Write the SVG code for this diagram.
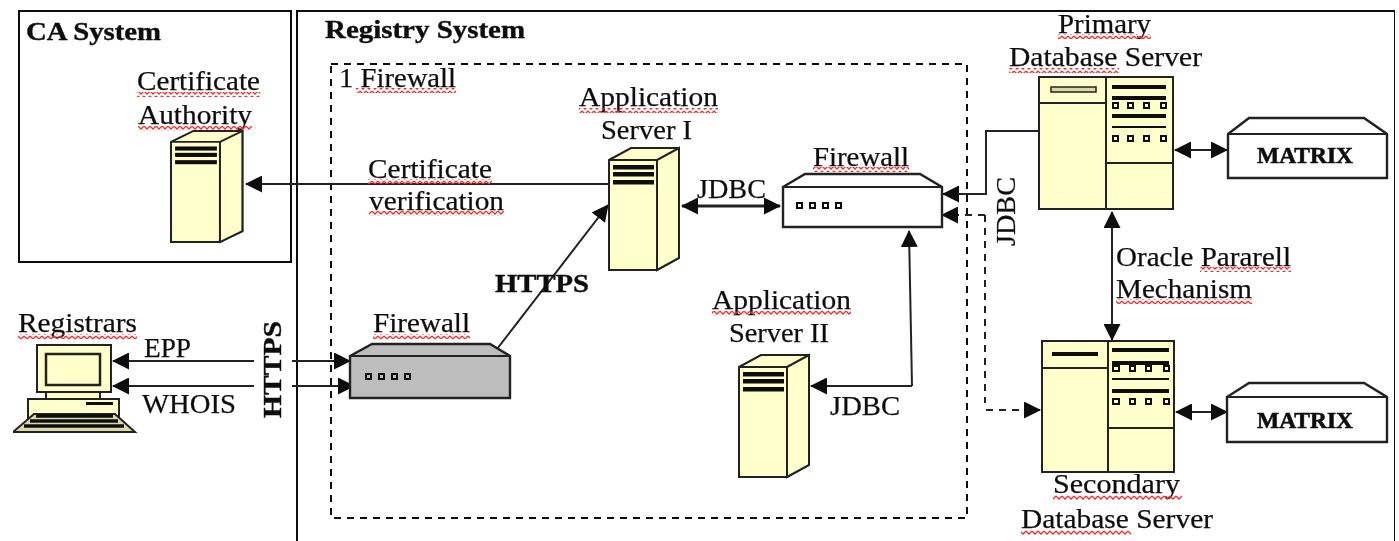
<svg xmlns="http://www.w3.org/2000/svg" xmlns:xlink="http://www.w3.org/1999/xlink" width="1399" height="541" viewBox="0 0 1399 541">
<style>
text{font-family:"Liberation Serif","Times New Roman",serif;font-size:27px;fill:#111;stroke:#111;stroke-width:.25}
.b{font-weight:bold;font-size:26px;stroke-width:.4}
.m{font-size:24px;font-weight:bold;stroke-width:.6}
.o{fill:none;stroke:#111;stroke-width:2}
.y{fill:#ffffcc;stroke:#222;stroke-width:2}
.w{fill:#fff;stroke:#222;stroke-width:2.4}
.g{fill:#bdbdbd;stroke:#222;stroke-width:2.4}
.c{fill:none;stroke:#222;stroke-width:2}
.a{marker-end:url(#h)}
.d{marker-start:url(#h2);marker-end:url(#h)}
.dash{stroke-dasharray:7 6}
.sq{fill:url(#zz)}
.bar{fill:#111}
.dot{stroke:#111;stroke-width:2}
</style>
<defs>
<marker id="h" markerUnits="userSpaceOnUse" markerWidth="17" markerHeight="17" refX="16" refY="8.5" orient="auto"><polygon points="0,0 17,8.5 0,17" fill="#111"/></marker>
<marker id="h2" markerUnits="userSpaceOnUse" markerWidth="17" markerHeight="17" refX="1" refY="8.5" orient="auto"><polygon points="17,0 0,8.5 17,17" fill="#111"/></marker>
<pattern id="zz" patternUnits="userSpaceOnUse" width="6" height="5"><path d="M0,1 L3,4 L6,1" fill="none" stroke="#ee3030" stroke-width="1.3"/></pattern>
<g id="tower">
<path class="y" d="M0,12 L22,0 H70 L70,110 L48,122 H0Z"/>
<path class="y" d="M48,12 L70,0 V110 L48,122Z"/>
<path class="c" d="M0,12 H48"/>
<rect class="bar" x="4" y="17" width="41" height="4.5"/><rect class="bar" x="4" y="24" width="41" height="4.5"/><rect class="bar" x="4" y="32" width="41" height="4.5"/>
</g>
<g id="dots" class="dot"><rect x="0" y="0" width="5" height="5"/><rect x="13" y="0" width="5" height="5"/><rect x="26" y="0" width="5" height="5"/><rect x="39" y="0" width="5" height="5"/></g>
<filter id="soft" x="0" y="0" width="100%" height="100%"><feGaussianBlur stdDeviation="0.45"/></filter>
</defs>
<rect width="1399" height="541" fill="#fff"/>
<g filter="url(#soft)">
<g id="ca-system"><rect class="o" x="19" y="11" width="272" height="251"/><text class="b" x="26" y="40" textLength="135" lengthAdjust="spacingAndGlyphs">CA System</text></g>
<g id="registry-system"><path class="o" d="M297,541 V11 H1395 V541"/><text class="b" x="325" y="38" textLength="200" lengthAdjust="spacingAndGlyphs">Registry System</text></g>
<g id="firewall-zone"><rect class="o dash" x="331" y="64" width="636" height="454"/><text x="339" y="87" textLength="117" lengthAdjust="spacingAndGlyphs">1 Firewall</text><rect class="sq" x="356" y="88" width="100" height="5"/></g>

<g id="connectors">
<path class="c a" d="M609,184 H246"/>
<path class="c a" d="M497,349 L608,205"/>
<path class="c d" d="M682,206 H780" style="stroke-width:3"/>
<path class="c a" d="M1040,131 H986 V194 H943"/>
<path class="c dash a" d="M985,215 H942"/>
<path class="c dash" d="M985,215 V403"/>
<path class="c dash a" d="M986,410 H1040"/>
<path class="c a" d="M912,386 L909,231"/>
<path class="c a" d="M912,386 H811"/>
<path class="c a" d="M254,361 H113"/>
<path class="c a" d="M292,361 H350"/>
<path class="c a" d="M254,386 H113"/>
<path class="c a" d="M292,386 H354"/>
<path class="c d" d="M1175,150 H1227"/>
<path class="c d" d="M1112,212 V340"/>
<path class="c d" d="M1176,412 H1227"/>
<text x="368" y="178" textLength="124" lengthAdjust="spacingAndGlyphs">Certificate</text><rect class="sq" x="368" y="179" width="124" height="5"/>
<text x="369" y="210" textLength="135" lengthAdjust="spacingAndGlyphs">verification</text><rect class="sq" x="369" y="211" width="135" height="5"/>
<text class="b" x="495" y="292" textLength="94" lengthAdjust="spacingAndGlyphs">HTTPS</text>
<text x="697" y="198" textLength="69" lengthAdjust="spacingAndGlyphs">JDBC</text>
<text x="830" y="415" textLength="70" lengthAdjust="spacingAndGlyphs">JDBC</text>
<text transform="translate(1015 246) rotate(-90)" textLength="69" lengthAdjust="spacingAndGlyphs">JDBC</text>
<text x="1116" y="266" textLength="175" lengthAdjust="spacingAndGlyphs">Oracle Pararell</text><rect class="sq" x="1200" y="267" width="91" height="5"/>
<text x="1116" y="298" textLength="136" lengthAdjust="spacingAndGlyphs">Mechanism</text><rect class="sq" x="1116" y="299" width="136" height="5"/>
<text x="144" y="357" textLength="47" lengthAdjust="spacingAndGlyphs">EPP</text>
<text x="142" y="413" textLength="94" lengthAdjust="spacingAndGlyphs">WHOIS</text>
<text class="b" transform="translate(281 418) rotate(-90)" textLength="97" lengthAdjust="spacingAndGlyphs">HTTPS</text>
</g>

<g id="certificate-authority">
<use href="#tower" transform="translate(171 131) scale(1.02 .91)"/>
<text x="137" y="90" textLength="123" lengthAdjust="spacingAndGlyphs">Certificate</text><rect class="sq" x="137" y="92" width="123" height="5"/>
<text x="138" y="124" textLength="114" lengthAdjust="spacingAndGlyphs">Authority</text><rect class="sq" x="138" y="126" width="114" height="5"/>
</g>
<g id="application-server-1">
<use href="#tower" x="609" y="148"/>
<text x="579" y="106" textLength="139" lengthAdjust="spacingAndGlyphs">Application</text><rect class="sq" x="579" y="108" width="139" height="5"/>
<text x="601" y="139" textLength="91" lengthAdjust="spacingAndGlyphs">Server I</text>
</g>
<g id="application-server-2">
<use href="#tower" x="739" y="355"/>
<text x="712" y="309" textLength="139" lengthAdjust="spacingAndGlyphs">Application</text><rect class="sq" x="712" y="311" width="139" height="5"/>
<text x="729" y="342" textLength="100" lengthAdjust="spacingAndGlyphs">Server II</text>
</g>
<g id="firewall-internal">
<path class="w" d="M783,187 L805,174 H920 L942,187 V227 H783Z"/><path class="c" d="M783,187 H942"/>
<use href="#dots" x="797" y="203" fill="#fff"/>
<text x="813" y="166" textLength="96" lengthAdjust="spacingAndGlyphs">Firewall</text><rect class="sq" x="813" y="167" width="96" height="5"/>
</g>
<g id="firewall-external">
<path class="g" d="M350,356 L372,344 H490 L510,356 V398 H350Z"/><path class="c" d="M350,356 H510"/>
<use href="#dots" x="366" y="374" fill="#bdbdbd"/>
<text x="373" y="332" textLength="97" lengthAdjust="spacingAndGlyphs">Firewall</text><rect class="sq" x="373" y="334" width="97" height="5"/>
</g>
<g id="registrars">
<rect class="y" x="37" y="345" width="74" height="47"/><rect class="y" x="46" y="354" width="54" height="31" style="stroke-width:2.5"/>
<rect class="y" x="46" y="392" width="54" height="7"/>
<rect class="y" x="28" y="399" width="91" height="20"/><rect class="bar" x="86" y="402" width="27" height="3"/>
<path d="M34,414 H115 L135,432 H13Z" fill="#d9d9a8" stroke="#222" stroke-width="2"/>
<path d="M36,416 H113 M30,421 H118 M24,426 H124" fill="none" stroke="#111" stroke-width="3.6"/>
<text x="18" y="332" textLength="119" lengthAdjust="spacingAndGlyphs">Registrars</text><rect class="sq" x="18" y="334" width="119" height="5"/>
</g>
<g id="primary-database-server">
<rect class="y" x="1039" y="77" width="134" height="132"/><path class="c" d="M1106,77 V209 M1039,103 H1106 M1106,163 H1173"/>
<rect x="1051" y="87" width="45" height="5" fill="#d9d9a8" stroke="#222" stroke-width="1.5"/>
<rect class="bar" x="1112" y="85" width="54" height="4"/><rect class="bar" x="1112" y="96" width="54" height="4"/><rect class="bar" x="1112" y="114" width="54" height="4"/><rect class="bar" x="1112" y="126" width="54" height="2"/>
<g class="dot" fill="#ffffcc"><rect x="1113" y="103" width="5" height="5"/><rect x="1128" y="103" width="5" height="5"/><rect x="1144" y="103" width="5" height="5"/><rect x="1161" y="103" width="5" height="5"/><rect x="1113" y="136" width="5" height="5"/><rect x="1128" y="136" width="5" height="5"/><rect x="1144" y="136" width="5" height="5"/><rect x="1161" y="136" width="5" height="5"/></g>
<text x="1058" y="33" textLength="93" lengthAdjust="spacingAndGlyphs">Primary</text><rect class="sq" x="1058" y="34" width="93" height="5"/>
<text x="1009" y="66" textLength="193" lengthAdjust="spacingAndGlyphs">Database Server</text><rect class="sq" x="1009" y="68" width="110" height="5"/>
</g>
<g id="matrix-primary">
<path class="w" d="M1228,134 L1249,118 H1364 L1387,134 V178 H1228Z"/><path class="c" d="M1228,134 H1387"/>
<text class="m" x="1257" y="163" textLength="96" lengthAdjust="spacingAndGlyphs">MATRIX</text>
</g>
<g id="secondary-database-server">
<rect class="y" x="1042" y="341" width="132" height="131"/><path class="c" d="M1108,341 V472 M1042,368 H1108 M1108,428 H1174"/>
<rect class="bar" x="1052" y="352" width="46" height="4"/>
<rect class="bar" x="1112" y="348" width="57" height="4"/><rect class="bar" x="1112" y="361" width="57" height="4"/><rect class="bar" x="1112" y="378" width="57" height="2"/><rect class="bar" x="1112" y="389" width="57" height="4"/>
<g class="dot" fill="#ffffcc"><rect x="1113" y="366" width="6" height="5"/><rect x="1130" y="366" width="5" height="5"/><rect x="1146" y="366" width="5" height="5"/><rect x="1164" y="366" width="5" height="5"/><rect x="1113" y="399" width="6" height="5"/><rect x="1130" y="399" width="5" height="5"/><rect x="1146" y="399" width="5" height="5"/><rect x="1164" y="399" width="5" height="5"/></g>
<text x="1053" y="493" textLength="127" lengthAdjust="spacingAndGlyphs">Secondary</text><rect class="sq" x="1053" y="495" width="129" height="5"/>
<text x="1021" y="528" textLength="192" lengthAdjust="spacingAndGlyphs">Database Server</text><rect class="sq" x="1021" y="530" width="110" height="5"/>
</g>
<g id="matrix-secondary">
<path class="w" d="M1227,397 L1249,383 H1364 L1387,397 V442 H1227Z"/><path class="c" d="M1227,397 H1387"/>
<text class="m" x="1257" y="428" textLength="96" lengthAdjust="spacingAndGlyphs">MATRIX</text>
</g>
</g>
</svg>
